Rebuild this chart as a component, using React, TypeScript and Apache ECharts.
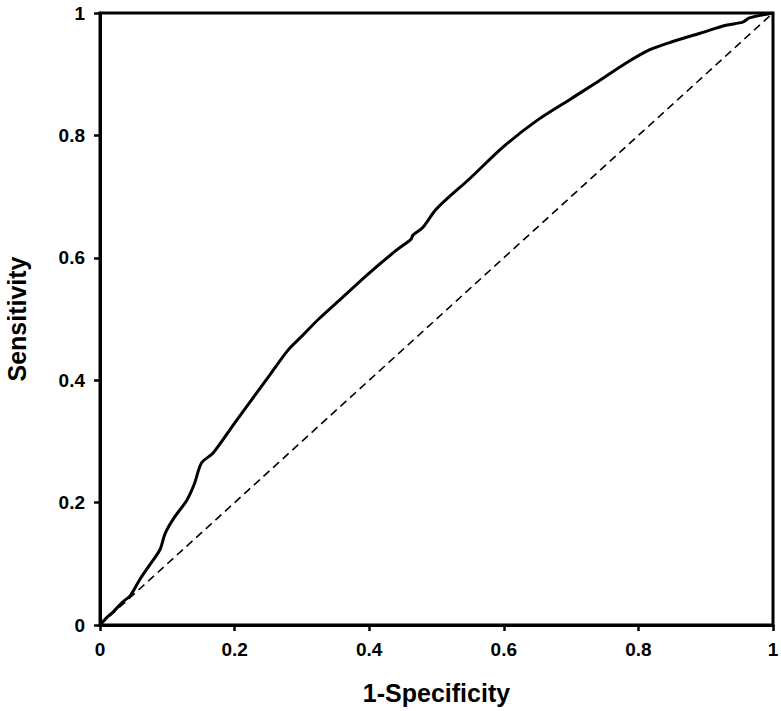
import React, { useEffect, useRef } from "react";
import * as echarts from "echarts";

const rocX = [0, 0.01, 0.02, 0.034, 0.045, 0.059, 0.075, 0.089, 0.097, 0.11, 0.129, 0.14, 0.151, 0.168, 0.2, 0.22, 0.25, 0.28, 0.3, 0.325, 0.36, 0.4, 0.44, 0.462, 0.465, 0.48, 0.5, 0.55, 0.6, 0.65, 0.7, 0.743, 0.78, 0.817, 0.85, 0.892, 0.93, 0.955, 0.965, 0.99, 1];
const rocY = [0, 0.012, 0.022, 0.038, 0.048, 0.074, 0.1, 0.123, 0.15, 0.175, 0.204, 0.23, 0.265, 0.281, 0.33, 0.36, 0.405, 0.45, 0.472, 0.5, 0.535, 0.575, 0.612, 0.63, 0.637, 0.65, 0.68, 0.73, 0.782, 0.825, 0.86, 0.89, 0.917, 0.94, 0.953, 0.967, 0.98, 0.985, 0.992, 0.998, 1];
const refX = [0, 1];
const refY = [0, 1];
const xTitle = "1-Specificity";
const yTitle = "Sensitivity";

export default function App() {
  const ref = useRef<HTMLDivElement>(null);
  useEffect(() => {
    document.body.style.margin = "0";
    const chart = echarts.init(ref.current!, null, { renderer: "svg" });
    const font = "'Liberation Sans', Arial, sans-serif";
    const axisCommon = {
      type: "value",
      min: 0,
      max: 1,
      interval: 0.2,
      splitLine: { show: false },
      axisLine: { show: true, lineStyle: { color: "#000", width: 3 } },
      axisTick: { show: true, inside: false, length: 6, lineStyle: { color: "#000", width: 2.5 } },
      nameLocation: "middle",
      nameTextStyle: { color: "#000", fontFamily: font, fontWeight: "bold", fontSize: 25 },
    };
    chart.setOption({
      animation: false,
      backgroundColor: "#fff",
      grid: {
        left: 100, top: 13, width: 673, height: 612,
        containLabel: false, outerBoundsMode: "none",
        show: true, borderColor: "#000", borderWidth: 3, backgroundColor: "transparent",
      },
      xAxis: {
        ...axisCommon,
        name: xTitle,
        nameGap: 55,
        axisLabel: { color: "#000", fontFamily: font, fontWeight: "bold", fontSize: 19, margin: 15, formatter: (v: number) => String(Math.round(v * 10) / 10) },
      },
      yAxis: {
        ...axisCommon,
        name: yTitle,
        nameGap: 71,
        axisLabel: { color: "#000", fontFamily: font, fontWeight: "bold", fontSize: 19, margin: 15, formatter: (v: number) => String(Math.round(v * 10) / 10) },
      },
      series: [
        {
          type: "line",
          data: refX.map((x, i) => [x, refY[i]]),
          symbol: "none",
          lineStyle: { color: "#000", width: 1.6, type: [8, 5] },
          silent: true,
        },
        {
          type: "line",
          data: rocX.map((x, i) => [x, rocY[i]]),
          symbol: "none",
          smooth: 0.3,
          lineStyle: { color: "#000", width: 3 },
          silent: true,
        },
      ],
    });
    return () => chart.dispose();
  }, []);
  return <div ref={ref} style={{ width: 781, height: 711 }} />;
}
